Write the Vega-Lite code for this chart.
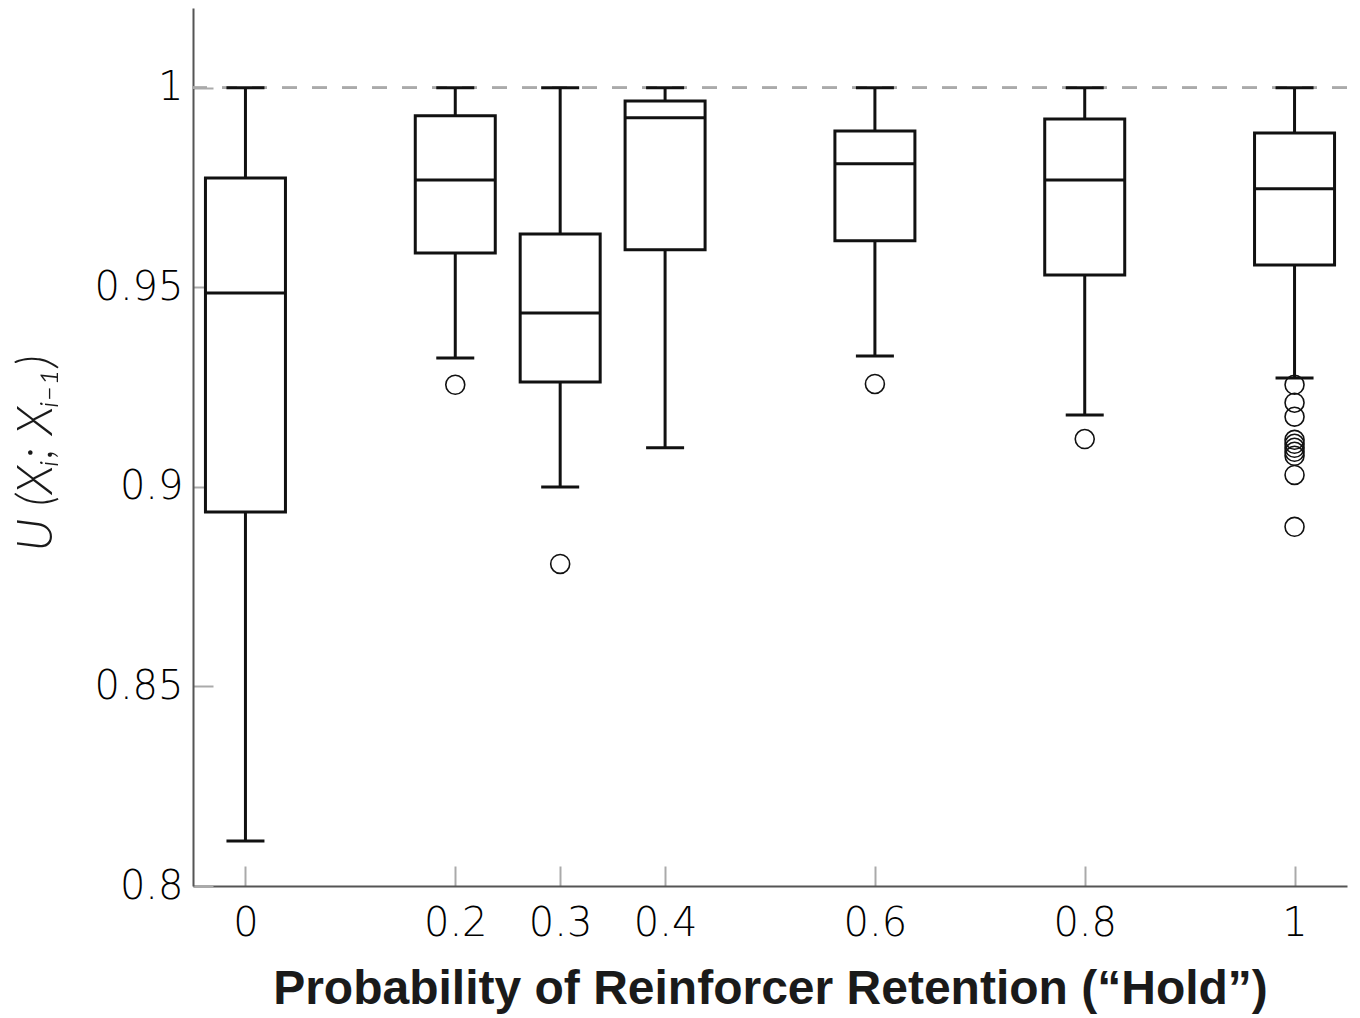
{
  "$schema": "https://vega.github.io/schema/vega-lite/v6.json",
  "width": 1154,
  "height": 878,
  "autosize": {"type": "none"},
  "padding": {"left": 193, "top": 8, "right": 13, "bottom": 132},
  "background": "white",
  "config": {
    "view": {"stroke": null},
    "axis": {
      "grid": false,
      "domainColor": "#555555",
      "domainWidth": 2,
      "tickColor": "#aaaaaa",
      "tickWidth": 2,
      "tickSize": -20,
      "labelFont": "DejaVu Sans",
      "labelFontWeight": 300,
      "labelFontSize": 40,
      "labelColor": "#000000"
    }
  },
  "datasets": {
    "boxes": [
      {"h": 0, "lo": 0.8113, "q1": 0.8937, "med": 0.9486, "q3": 0.9774, "hi": 1.0},
      {"h": 0.2, "lo": 0.9323, "q1": 0.9586, "med": 0.9769, "q3": 0.993, "hi": 1.0},
      {"h": 0.3, "lo": 0.9, "q1": 0.9263, "med": 0.9436, "q3": 0.9634, "hi": 1.0},
      {"h": 0.4, "lo": 0.9098, "q1": 0.9594, "med": 0.9925, "q3": 0.9967, "hi": 1.0},
      {"h": 0.6, "lo": 0.9328, "q1": 0.9617, "med": 0.981, "q3": 0.9892, "hi": 1.0},
      {"h": 0.8, "lo": 0.918, "q1": 0.9531, "med": 0.9769, "q3": 0.9922, "hi": 1.0},
      {"h": 1, "lo": 0.9273, "q1": 0.9556, "med": 0.9747, "q3": 0.9887, "hi": 1.0}
    ],
    "outliers": [
      {"h": 0.2, "v": 0.9256},
      {"h": 0.3, "v": 0.8807},
      {"h": 0.6, "v": 0.9258},
      {"h": 0.8, "v": 0.912},
      {"h": 1, "v": 0.9256},
      {"h": 1, "v": 0.9211},
      {"h": 1, "v": 0.9176},
      {"h": 1, "v": 0.9118},
      {"h": 1, "v": 0.9108},
      {"h": 1, "v": 0.9098},
      {"h": 1, "v": 0.9088},
      {"h": 1, "v": 0.9078},
      {"h": 1, "v": 0.903},
      {"h": 1, "v": 0.89}
    ]
  },
  "layer": [
    {
      "data": {"name": "boxes"},
      "mark": {"type": "rule", "color": "#aaaaaa", "strokeWidth": 2, "strokeDash": [15, 15]},
      "encoding": {
        "y": {"datum": 1, "type": "quantitative", "scale": {"domain": [0.8, 1.02], "nice": false, "zero": false, "padding": 0}}
      }
    },
    {
      "data": {"name": "boxes"},
      "mark": {"type": "rule", "color": "#111111", "strokeWidth": 3},
      "encoding": {
        "x": {"field": "h", "type": "quantitative", "scale": {"domain": [-0.05, 1.05], "nice": false, "zero": false, "padding": 0},
          "axis": {
            "values": [0, 0.2, 0.3, 0.4, 0.6, 0.8, 1],
            "format": "~g",
            "labelPadding": 37,
            "labelBaseline": "top",
            "title": "Probability of Reinforcer Retention (\u201cHold\u201d)",
            "titleFont": "Liberation Sans",
            "titleFontWeight": "bold",
            "titleFontSize": 48,
            "titleColor": "#1a1a1a",
            "titleBaseline": "alphabetic",
            "titleY": 117
          }
        },
        "y": {"field": "lo", "type": "quantitative", "scale": {"domain": [0.8, 1.02], "nice": false, "zero": false, "padding": 0},
          "axis": {
            "values": [0.8, 0.85, 0.9, 0.95, 1],
            "format": "~g",
            "labelPadding": 30,
            "title": "U (X\u1d62;  X\u1d62\u208b\u2081)",
            "titleFont": "Lato",
            "titleFontWeight": 300,
            "titleFontStyle": "italic",
            "titleFontSize": 49,
            "titleColor": "#1a1a1a",
            "titleAngle": -90,
            "titleAlign": "center",
            "titleBaseline": "middle",
            "titleX": -157,
            "titleY": 445
          }
        },
        "y2": {"field": "hi"}
      }
    },
    {
      "data": {"name": "boxes"},
      "mark": {"type": "tick", "orient": "horizontal", "color": "#111111", "opacity": 1, "size": 38, "thickness": 3},
      "encoding": {
        "x": {"field": "h", "type": "quantitative"},
        "y": {"field": "lo", "type": "quantitative"}
      }
    },
    {
      "data": {"name": "boxes"},
      "mark": {"type": "tick", "orient": "horizontal", "color": "#111111", "opacity": 1, "size": 38, "thickness": 3},
      "encoding": {
        "x": {"field": "h", "type": "quantitative"},
        "y": {"field": "hi", "type": "quantitative"}
      }
    },
    {
      "data": {"name": "boxes"},
      "mark": {"type": "bar", "size": 80, "fill": "white", "stroke": "#111111", "strokeWidth": 3, "opacity": 1},
      "encoding": {
        "x": {"field": "h", "type": "quantitative"},
        "y": {"field": "q1", "type": "quantitative"},
        "y2": {"field": "q3"}
      }
    },
    {
      "data": {"name": "boxes"},
      "mark": {"type": "tick", "orient": "horizontal", "color": "#111111", "opacity": 1, "size": 80, "thickness": 3},
      "encoding": {
        "x": {"field": "h", "type": "quantitative"},
        "y": {"field": "med", "type": "quantitative"}
      }
    },
    {
      "data": {"name": "outliers"},
      "mark": {"type": "point", "shape": "circle", "filled": false, "size": 360, "color": "#111111", "strokeWidth": 1.6, "opacity": 1},
      "encoding": {
        "x": {"field": "h", "type": "quantitative"},
        "y": {"field": "v", "type": "quantitative"}
      }
    }
  ]
}
